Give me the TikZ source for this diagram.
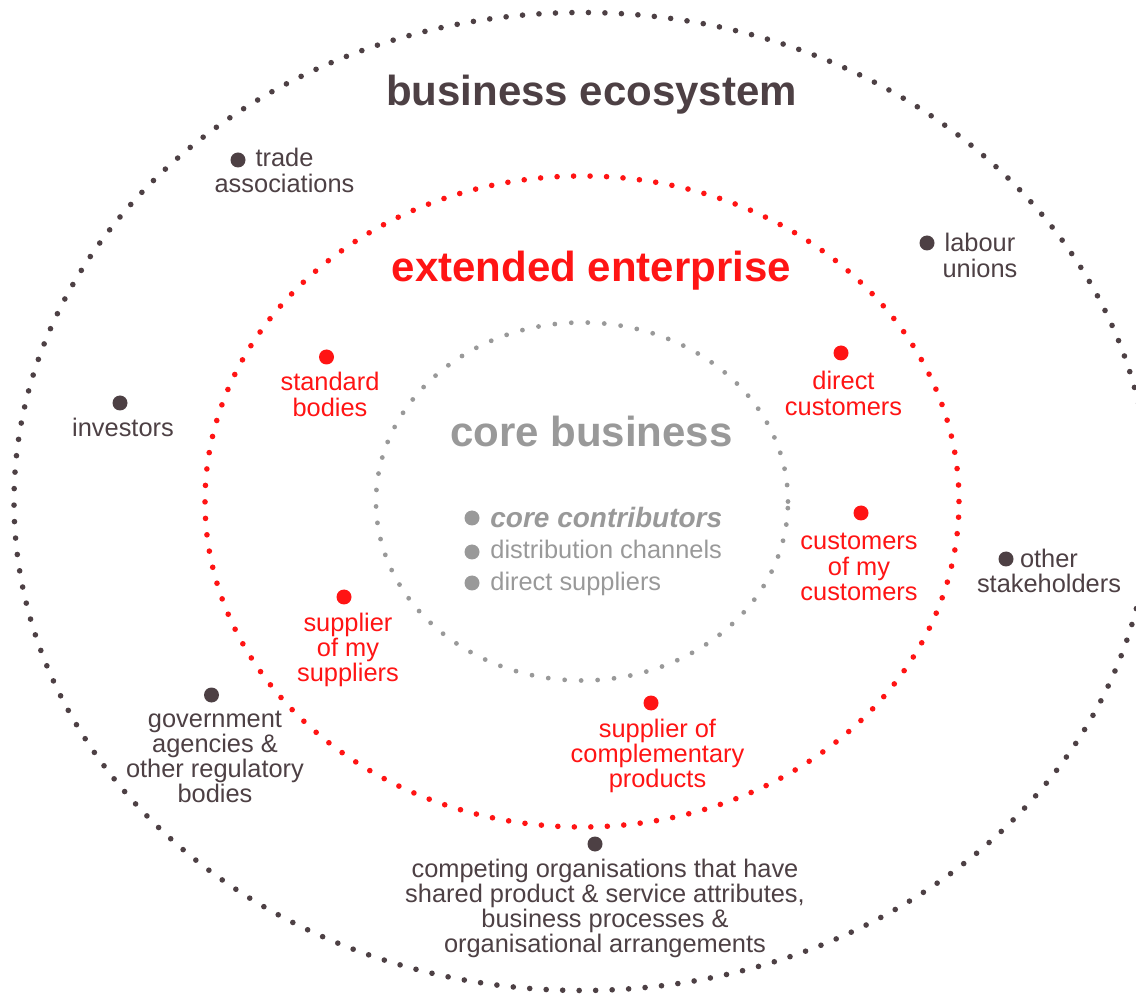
\documentclass[tikz,border=0pt]{standalone}
\usepackage{fontspec}
\setmainfont{Liberation Sans}
\usetikzlibrary{positioning}
\definecolor{ecobrown}{RGB}{77,64,68}
\definecolor{entred}{RGB}{255,20,20}
\definecolor{coregray}{RGB}{153,153,153}
\tikzstyle{ring} = [line width=2.8pt, line cap=round, dash pattern=on 0pt off 8.25pt]
\tikzstyle{spot} = [circle, inner sep=0pt, minimum size=7.5pt]
\tikzstyle{title} = [inner sep=0pt, anchor=base, font=\fontsize{21}{21}\selectfont\bfseries]
\tikzstyle{ecotext} = [inner sep=0pt, align=center, text=ecobrown, font=\fontsize{12.7}{12.6}\selectfont]
\tikzstyle{enttext} = [inner sep=0pt, align=center, text=entred, font=\fontsize{12.7}{12.6}\selectfont]
\tikzstyle{coretext} = [inner sep=0pt, text=coregray, font=\fontsize{12.7}{12.6}\selectfont]

\begin{document}
\begin{tikzpicture}[x=0.5pt, y=-0.5pt]

\useasboundingbox (0,0) rectangle (1136,994);

% rings
\draw [ring, ecobrown] (582,501.5) ellipse [x radius=284pt, y radius=244.5pt];
\draw [ring, entred] (582,501.5) ellipse [x radius=188.5pt, y radius=162.75pt];
\draw [ring, coregray, line width=2.4pt] (582,501.5) ellipse [x radius=103pt, y radius=89.5pt];

% titles
\node (eco) [title, text=ecobrown] at (591.5,106) {business ecosystem};
\node (ent) [title, text=entred, below=88pt of eco.base, anchor=base] {extended enterprise};
\node (core) [title, text=coregray, below=82.5pt of ent.base, anchor=base] {core business};

% business ecosystem (base = last line, so shift by the lines above)
\node (tradedot) [spot, fill=ecobrown] at (238,160) {};
\node (trade) [ecotext, right=23.25pt of tradedot.center, anchor=base, yshift=-16.1pt] {trade\\associations};

\node (labourdot) [spot, fill=ecobrown] at (927,243) {};
\node (labour) [ecotext, right=26.5pt of labourdot.center, anchor=base, yshift=-17.1pt] {labour\\unions};

\node (otherdot) [spot, fill=ecobrown] at (1006,559) {};
\node (other) [ecotext, right=21.5pt of otherdot.center, anchor=base, yshift=-16.6pt] {other\\stakeholders};

\node (invdot) [spot, fill=ecobrown] at (120,403) {};
\node (inv) [ecotext, below=17pt of invdot.center, anchor=base, xshift=1.5pt] {investors};

\node (govdot) [spot, fill=ecobrown] at (211.5,695) {};
\node (gov) [ecotext, below=53.8pt of govdot.center, anchor=base, xshift=1.75pt] {government\\agencies \&\\other regulatory\\bodies};

\node (compdot) [spot, fill=ecobrown] at (595,844) {};
\node (comp) [ecotext, below=54.3pt of compdot.center, anchor=base, xshift=5pt] {competing organisations that have\\shared product \& service attributes,\\business processes \&\\organisational arrangements};

% extended enterprise
\node (stddot) [spot, fill=entred] at (326.5,357) {};
\node (std) [enttext, below=29.6pt of stddot.center, anchor=base, xshift=1.75pt] {standard\\bodies};

\node (dircustdot) [spot, fill=entred] at (841,353) {};
\node (dircust) [enttext, below=31.1pt of dircustdot.center, anchor=base, xshift=1.25pt] {direct\\customers};

\node (custcustdot) [spot, fill=entred] at (861,513) {};
\node (custcust) [enttext, below=43.7pt of custcustdot.center, anchor=base, xshift=-1pt] {customers\\of my\\customers};

\node (supsupdot) [spot, fill=entred] at (344,597) {};
\node (supsup) [enttext, below=42.2pt of supsupdot.center, anchor=base, xshift=2pt] {supplier\\of my\\suppliers};

\node (compldot) [spot, fill=entred] at (651,703) {};
\node (compl) [enttext, below=42.2pt of compldot.center, anchor=base, xshift=3.25pt] {supplier of\\complementary\\products};

% core business
\node (cc1dot) [spot, fill=coregray] at (472,518) {};
\node (cc1) [coretext, right=9pt of cc1dot.center, anchor=base west, yshift=-5pt, font=\fontsize{14}{14}\selectfont\bfseries\itshape] {core contributors};

\node (cc2dot) [spot, fill=coregray] at (472,552) {};
\node (cc2) [coretext, right=9pt of cc2dot.center, anchor=base west, yshift=-3.5pt] {distribution channels};

\node (cc3dot) [spot, fill=coregray] at (472,583) {};
\node (cc3) [coretext, right=9pt of cc3dot.center, anchor=base west, yshift=-3.5pt] {direct suppliers};

\end{tikzpicture}
\end{document}
